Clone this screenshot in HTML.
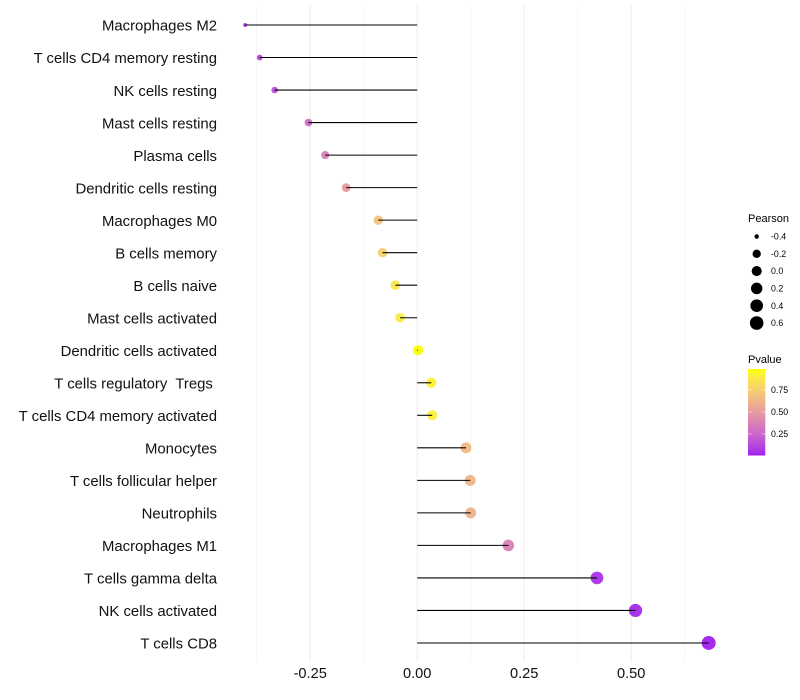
<!DOCTYPE html>
<html>
<head>
<meta charset="utf-8">
<title>Pearson correlation lollipop chart</title>
<style>
html,body{margin:0;padding:0;background:#fff;width:800px;height:700px;overflow:hidden}
svg{display:block}
text{font-family:"Liberation Sans",sans-serif;white-space:pre}
</style>
</head>
<body>
<svg id="chart" width="800" height="700" viewBox="0 0 800 700" xmlns="http://www.w3.org/2000/svg" xml:space="preserve"></svg>
<script>
const categories = ["Macrophages M2","T cells CD4 memory resting","NK cells resting","Mast cells resting","Plasma cells","Dendritic cells resting","Macrophages M0","B cells memory","B cells naive","Mast cells activated","Dendritic cells activated","T cells regulatory  Tregs ","T cells CD4 memory activated","Monocytes","T cells follicular helper","Neutrophils","Macrophages M1","T cells gamma delta","NK cells activated","T cells CD8"];
const pearson = [-0.402,-0.368,-0.333,-0.254,-0.215,-0.166,-0.091,-0.081,-0.051,-0.040,0.002,0.033,0.035,0.114,0.124,0.125,0.213,0.420,0.510,0.681];
const pvalue = [0.07,0.11,0.16,0.28,0.36,0.50,0.70,0.76,0.87,0.90,1.00,0.94,0.92,0.66,0.63,0.62,0.36,0.05,0.02,0.001];
const xTicks = [-0.25,0,0.25,0.5];
const xTickLabels = ["-0.25","0.00","0.25","0.50"];
const xMinorTicks = [-0.375,-0.125,0.125,0.375,0.625];
const sizeLegendValues = [-0.4,-0.2,0,0.2,0.4,0.6];
const sizeLegendLabels = ["-0.4","-0.2","0.0","0.2","0.4","0.6"];
const colorLegendValues = [0.75,0.5,0.25];
const colorLegendLabels = ["0.75","0.50","0.25"];

const svg = document.getElementById('chart');
const NS = 'http://www.w3.org/2000/svg';
function make(tag, attrs, parent, text) {
  const e = document.createElementNS(NS, tag);
  for (const k in attrs) e.setAttribute(k, attrs[k]);
  if (text !== undefined) e.textContent = text;
  (parent || svg).appendChild(e);
  return e;
}
const xScale = v => 417.2 + v * 428;
const yScale = i => 25 + i * 32.525;
const minP = Math.min(...pearson), maxP = Math.max(...pearson);
const rScale = v => 2 + 5 * Math.sqrt(Math.max(0, (v - minP) / (maxP - minP)));
const pY = p => 456 - p * 88;

function toLab(c) {
  const l = c.map(u => { u /= 255; return u > 0.04045 ? Math.pow((u + 0.055) / 1.055, 2.4) : u / 12.92; });
  const X = (0.4124 * l[0] + 0.3576 * l[1] + 0.1805 * l[2]) / 0.95047;
  const Y = 0.2126 * l[0] + 0.7152 * l[1] + 0.0722 * l[2];
  const Z = (0.0193 * l[0] + 0.1192 * l[1] + 0.9505 * l[2]) / 1.08883;
  const f = t => t > 0.008856 ? Math.cbrt(t) : 7.787 * t + 16 / 116;
  return [116 * f(Y) - 16, 500 * (f(X) - f(Y)), 200 * (f(Y) - f(Z))];
}
function fromLab(L) {
  const fy = (L[0] + 16) / 116, fx = fy + L[1] / 500, fz = fy - L[2] / 200;
  const g = t => t * t * t > 0.008856 ? t * t * t : (t - 16 / 116) / 7.787;
  const X = g(fx) * 0.95047, Y = g(fy), Z = g(fz) * 1.08883;
  const r = [3.2406 * X - 1.5372 * Y - 0.4986 * Z, -0.9689 * X + 1.8758 * Y + 0.0415 * Z, 0.0557 * X - 0.204 * Y + 1.057 * Z];
  const c = r.map(u => { u = Math.min(1, Math.max(0, u)); return Math.round(255 * (u > 0.0031308 ? 1.055 * Math.pow(u, 1 / 2.4) - 0.055 : 12.92 * u)); });
  return 'rgb(' + c.join(',') + ')';
}
const labLow = toLab([160, 32, 240]), labHigh = toLab([255, 255, 0]);
const colorScale = p => fromLab(labLow.map((a, i) => a + (labHigh[i] - a) * p));

// grid
xMinorTicks.forEach(v => {
  const g = make('line', {x1: xScale(v), x2: xScale(v), y1: 5, y2: 662, stroke: '#f0f0f0', 'stroke-width': 0.7});
  
  
});
xTicks.forEach((v, i) => {
  const g = make('line', {x1: xScale(v), x2: xScale(v), y1: 5, y2: 662, stroke: '#ededed', 'stroke-width': 1.07});
  
  
  const t = make('text', {x: xScale(v), y: 678, 'text-anchor': 'middle', 'font-size': 14.6, fill: '#111'}, svg, xTickLabels[i]);
  
  
});

// marks
categories.forEach((name, i) => {
  const y = yScale(i);
  const t = make('text', {x: 217, y: y + 5.7, 'text-anchor': 'end', 'font-size': 14.9, fill: '#111'}, svg, name);
  
  
  const pt = make('circle', {cx: xScale(pearson[i]), cy: y, r: rScale(pearson[i]), fill: colorScale(pvalue[i]), 'fill-opacity': 0.95});
  
  
  const seg = make('line', {x1: xScale(0), x2: xScale(pearson[i]), y1: y, y2: y, stroke: '#000', 'stroke-width': 1.07});
  
  
});

// size legend
const sizeTitle = make('text', {x: 748, y: 222, 'font-size': 11, fill: '#000'}, svg, 'Pearson');


sizeLegendValues.forEach((v, i) => {
  const y = 236.5 + i * 17.3;
  const c = make('circle', {cx: 756.7, cy: y, r: rScale(v), fill: '#000'});
  
  
  const t = make('text', {x: 771, y: y + 3.1, 'font-size': 8.8, fill: '#000'}, svg, sizeLegendLabels[i]);
  
  
});

// colour legend
const colorTitle = make('text', {x: 748, y: 363, 'font-size': 11, fill: '#000'}, svg, 'Pvalue');


const defs = make('defs', {});
const grad = make('linearGradient', {id: 'pvalue-gradient', x1: 0, y1: 1, x2: 0, y2: 0}, defs);
for (let s = 0; s <= 20; s++) {
  make('stop', {offset: s / 20, 'stop-color': colorScale(s / 20)}, grad);
}
const bar = make('rect', {x: 748, y: 369, width: 17.3, height: 86.5, fill: 'url(#pvalue-gradient)'});


colorLegendValues.forEach((p, i) => {
  const y = pY(p);
  const a = make('line', {x1: 748, x2: 751.5, y1: y, y2: y, stroke: '#fff', 'stroke-width': 0.5});
  
  
  const b = make('line', {x1: 761.8, x2: 765.3, y1: y, y2: y, stroke: '#fff', 'stroke-width': 0.5});
  
  
  const t = make('text', {x: 771, y: y + 3.1, 'font-size': 8.8, fill: '#000'}, svg, colorLegendLabels[i]);
  
  
});
</script>
</body>
</html>
